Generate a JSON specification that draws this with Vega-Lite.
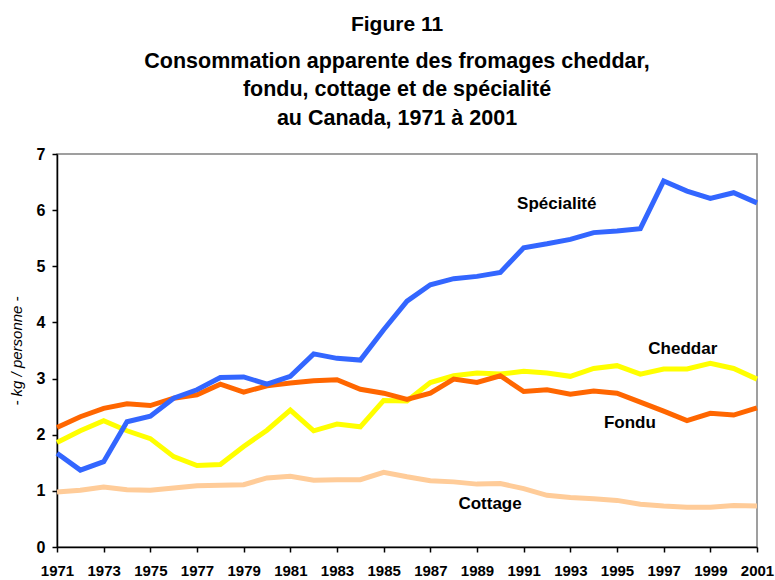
{
  "$schema": "https://vega.github.io/schema/vega-lite/v6.json",
  "width": 700,
  "height": 393,
  "autosize": {"type": "none"},
  "padding": {"left": 57, "top": 154, "right": 18, "bottom": 33},
  "background": "white",
  "config": {
    "font": "Liberation Sans",
    "view": {"stroke": "#808080", "strokeWidth": 1.5},
    "axis": {"grid": false, "domainColor": "black", "domainWidth": 1.5, "tickColor": "black", "tickWidth": 1.5, "tickSize": 5, "labelFont": "Liberation Sans", "labelFontWeight": "bold", "labelFontSize": 15, "labelColor": "black"}
  },
  "title": {
    "text": "Figure 11",
    "subtitle": ["Consommation apparente des fromages cheddar,", "fondu, cottage et de spécialité", "au Canada, 1971 à 2001"],
    "anchor": "middle",
    "dx": -10,
    "offset": 17,
    "font": "Liberation Sans",
    "fontSize": 21,
    "fontWeight": "bold",
    "color": "black",
    "subtitleFont": "Liberation Sans",
    "subtitleFontSize": 21.5,
    "subtitleFontWeight": "bold",
    "subtitleColor": "black",
    "subtitleLineHeight": 28.5,
    "subtitlePadding": 16
  },
  "datasets": {
    "series": [
      {"year": 1971, "type": "Cottage", "value": 0.98},
      {"year": 1972, "type": "Cottage", "value": 1.01},
      {"year": 1973, "type": "Cottage", "value": 1.07},
      {"year": 1974, "type": "Cottage", "value": 1.02},
      {"year": 1975, "type": "Cottage", "value": 1.01},
      {"year": 1976, "type": "Cottage", "value": 1.05},
      {"year": 1977, "type": "Cottage", "value": 1.09},
      {"year": 1978, "type": "Cottage", "value": 1.10},
      {"year": 1979, "type": "Cottage", "value": 1.11},
      {"year": 1980, "type": "Cottage", "value": 1.23},
      {"year": 1981, "type": "Cottage", "value": 1.26},
      {"year": 1982, "type": "Cottage", "value": 1.19},
      {"year": 1983, "type": "Cottage", "value": 1.20},
      {"year": 1984, "type": "Cottage", "value": 1.20},
      {"year": 1985, "type": "Cottage", "value": 1.33},
      {"year": 1986, "type": "Cottage", "value": 1.25},
      {"year": 1987, "type": "Cottage", "value": 1.18},
      {"year": 1988, "type": "Cottage", "value": 1.16},
      {"year": 1989, "type": "Cottage", "value": 1.12},
      {"year": 1990, "type": "Cottage", "value": 1.13},
      {"year": 1991, "type": "Cottage", "value": 1.04},
      {"year": 1992, "type": "Cottage", "value": 0.92},
      {"year": 1993, "type": "Cottage", "value": 0.88},
      {"year": 1994, "type": "Cottage", "value": 0.86},
      {"year": 1995, "type": "Cottage", "value": 0.83},
      {"year": 1996, "type": "Cottage", "value": 0.76},
      {"year": 1997, "type": "Cottage", "value": 0.73},
      {"year": 1998, "type": "Cottage", "value": 0.71},
      {"year": 1999, "type": "Cottage", "value": 0.71},
      {"year": 2000, "type": "Cottage", "value": 0.74},
      {"year": 2001, "type": "Cottage", "value": 0.73},
      {"year": 1971, "type": "Cheddar", "value": 1.86},
      {"year": 1972, "type": "Cheddar", "value": 2.07},
      {"year": 1973, "type": "Cheddar", "value": 2.25},
      {"year": 1974, "type": "Cheddar", "value": 2.07},
      {"year": 1975, "type": "Cheddar", "value": 1.93},
      {"year": 1976, "type": "Cheddar", "value": 1.61},
      {"year": 1977, "type": "Cheddar", "value": 1.45},
      {"year": 1978, "type": "Cheddar", "value": 1.47},
      {"year": 1979, "type": "Cheddar", "value": 1.79},
      {"year": 1980, "type": "Cheddar", "value": 2.08},
      {"year": 1981, "type": "Cheddar", "value": 2.44},
      {"year": 1982, "type": "Cheddar", "value": 2.07},
      {"year": 1983, "type": "Cheddar", "value": 2.19},
      {"year": 1984, "type": "Cheddar", "value": 2.14},
      {"year": 1985, "type": "Cheddar", "value": 2.61},
      {"year": 1986, "type": "Cheddar", "value": 2.60},
      {"year": 1987, "type": "Cheddar", "value": 2.93},
      {"year": 1988, "type": "Cheddar", "value": 3.05},
      {"year": 1989, "type": "Cheddar", "value": 3.10},
      {"year": 1990, "type": "Cheddar", "value": 3.08},
      {"year": 1991, "type": "Cheddar", "value": 3.13},
      {"year": 1992, "type": "Cheddar", "value": 3.10},
      {"year": 1993, "type": "Cheddar", "value": 3.04},
      {"year": 1994, "type": "Cheddar", "value": 3.18},
      {"year": 1995, "type": "Cheddar", "value": 3.23},
      {"year": 1996, "type": "Cheddar", "value": 3.08},
      {"year": 1997, "type": "Cheddar", "value": 3.17},
      {"year": 1998, "type": "Cheddar", "value": 3.17},
      {"year": 1999, "type": "Cheddar", "value": 3.27},
      {"year": 2000, "type": "Cheddar", "value": 3.18},
      {"year": 2001, "type": "Cheddar", "value": 2.99},
      {"year": 1971, "type": "Fondu", "value": 2.13},
      {"year": 1972, "type": "Fondu", "value": 2.32},
      {"year": 1973, "type": "Fondu", "value": 2.47},
      {"year": 1974, "type": "Fondu", "value": 2.55},
      {"year": 1975, "type": "Fondu", "value": 2.52},
      {"year": 1976, "type": "Fondu", "value": 2.65},
      {"year": 1977, "type": "Fondu", "value": 2.71},
      {"year": 1978, "type": "Fondu", "value": 2.90},
      {"year": 1979, "type": "Fondu", "value": 2.76},
      {"year": 1980, "type": "Fondu", "value": 2.87},
      {"year": 1981, "type": "Fondu", "value": 2.92},
      {"year": 1982, "type": "Fondu", "value": 2.96},
      {"year": 1983, "type": "Fondu", "value": 2.98},
      {"year": 1984, "type": "Fondu", "value": 2.81},
      {"year": 1985, "type": "Fondu", "value": 2.74},
      {"year": 1986, "type": "Fondu", "value": 2.63},
      {"year": 1987, "type": "Fondu", "value": 2.74},
      {"year": 1988, "type": "Fondu", "value": 2.99},
      {"year": 1989, "type": "Fondu", "value": 2.93},
      {"year": 1990, "type": "Fondu", "value": 3.05},
      {"year": 1991, "type": "Fondu", "value": 2.77},
      {"year": 1992, "type": "Fondu", "value": 2.80},
      {"year": 1993, "type": "Fondu", "value": 2.72},
      {"year": 1994, "type": "Fondu", "value": 2.78},
      {"year": 1995, "type": "Fondu", "value": 2.74},
      {"year": 1996, "type": "Fondu", "value": 2.58},
      {"year": 1997, "type": "Fondu", "value": 2.42},
      {"year": 1998, "type": "Fondu", "value": 2.25},
      {"year": 1999, "type": "Fondu", "value": 2.38},
      {"year": 2000, "type": "Fondu", "value": 2.35},
      {"year": 2001, "type": "Fondu", "value": 2.48},
      {"year": 1971, "type": "Spécialité", "value": 1.67},
      {"year": 1972, "type": "Spécialité", "value": 1.37},
      {"year": 1973, "type": "Spécialité", "value": 1.52},
      {"year": 1974, "type": "Spécialité", "value": 2.23},
      {"year": 1975, "type": "Spécialité", "value": 2.33},
      {"year": 1976, "type": "Spécialité", "value": 2.65},
      {"year": 1977, "type": "Spécialité", "value": 2.80},
      {"year": 1978, "type": "Spécialité", "value": 3.02},
      {"year": 1979, "type": "Spécialité", "value": 3.03},
      {"year": 1980, "type": "Spécialité", "value": 2.90},
      {"year": 1981, "type": "Spécialité", "value": 3.04},
      {"year": 1982, "type": "Spécialité", "value": 3.44},
      {"year": 1983, "type": "Spécialité", "value": 3.36},
      {"year": 1984, "type": "Spécialité", "value": 3.33},
      {"year": 1985, "type": "Spécialité", "value": 3.87},
      {"year": 1986, "type": "Spécialité", "value": 4.38},
      {"year": 1987, "type": "Spécialité", "value": 4.67},
      {"year": 1988, "type": "Spécialité", "value": 4.78},
      {"year": 1989, "type": "Spécialité", "value": 4.82},
      {"year": 1990, "type": "Spécialité", "value": 4.89},
      {"year": 1991, "type": "Spécialité", "value": 5.33},
      {"year": 1992, "type": "Spécialité", "value": 5.40},
      {"year": 1993, "type": "Spécialité", "value": 5.48},
      {"year": 1994, "type": "Spécialité", "value": 5.60},
      {"year": 1995, "type": "Spécialité", "value": 5.63},
      {"year": 1996, "type": "Spécialité", "value": 5.67},
      {"year": 1997, "type": "Spécialité", "value": 6.52},
      {"year": 1998, "type": "Spécialité", "value": 6.34},
      {"year": 1999, "type": "Spécialité", "value": 6.21},
      {"year": 2000, "type": "Spécialité", "value": 6.31},
      {"year": 2001, "type": "Spécialité", "value": 6.13}
    ],
    "labels": [
      {"label": "Spécialité", "year": 1992.42, "value": 6.11},
      {"label": "Cheddar", "year": 1997.82, "value": 3.52},
      {"label": "Fondu", "year": 1995.55, "value": 2.20},
      {"label": "Cottage", "year": 1989.56, "value": 0.76}
    ]
  },
  "layer": [
    {
      "data": {"name": "series"},
      "mark": {"type": "line", "strokeWidth": 5, "clip": false},
      "encoding": {
        "x": {
          "field": "year", "type": "quantitative",
          "scale": {"domain": [1971, 2001], "nice": false, "zero": false},
          "axis": {
            "title": null,
            "values": [1971,1972,1973,1974,1975,1976,1977,1978,1979,1980,1981,1982,1983,1984,1985,1986,1987,1988,1989,1990,1991,1992,1993,1994,1995,1996,1997,1998,1999,2000,2001],
            "format": "d",
            "labelExpr": "datum.value % 2 == 1 ? datum.label : ''",
            "labelOverlap": false,
            "labelFlush": false,
            "labelPadding": 11
          }
        },
        "y": {
          "field": "value", "type": "quantitative",
          "scale": {"domain": [0, 7], "nice": false},
          "axis": {
            "values": [0,1,2,3,4,5,6,7],
            "format": "d",
            "labelFontSize": 16,
            "title": "- kg / personne -",
            "titleFont": "Liberation Sans",
            "titleFontSize": 15,
            "titleFontWeight": "normal",
            "titleFontStyle": "italic",
            "titleColor": "black",
            "titlePadding": 12,
            "labelPadding": 7
          }
        },
        "color": {
          "field": "type", "type": "nominal",
          "scale": {"domain": ["Cottage", "Cheddar", "Fondu", "Spécialité"], "range": ["#FFCC99", "#FFFF00", "#FF6600", "#3366FF"]},
          "legend": null
        }
      }
    },
    {
      "data": {"name": "labels"},
      "mark": {"type": "text", "font": "Liberation Sans", "fontSize": 17, "fontWeight": "bold", "color": "black", "align": "center", "baseline": "middle"},
      "encoding": {
        "x": {"field": "year", "type": "quantitative"},
        "y": {"field": "value", "type": "quantitative"},
        "text": {"field": "label"}
      }
    }
  ]
}
